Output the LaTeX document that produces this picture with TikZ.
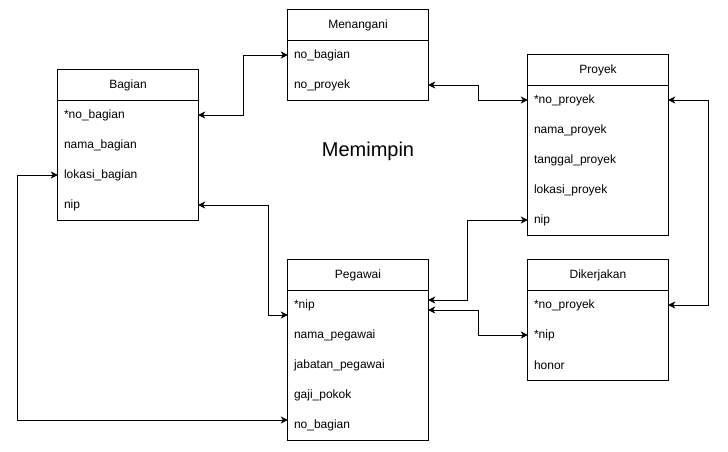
\documentclass[tikz,border=0pt]{standalone}
\usepackage{fontspec}
\setmainfont{Liberation Sans}
\usetikzlibrary{arrows.meta}
\tikzset{
  hdr/.style={minimum width=140pt, minimum height=30pt, inner sep=0pt, font=\fontsize{12}{14}\selectfont},
  row/.style={minimum width=140pt, minimum height=30pt, inner xsep=6pt, inner ysep=0pt, text width=128pt, align=left, font=\fontsize{12}{14}\selectfont},
  box/.style={draw, line width=1pt},
  conn/.style={line width=1pt, {Stealth[length=7pt,width=7pt,inset=2pt]}-{Stealth[length=7pt,width=7pt,inset=2pt]}},
}
\begin{document}
\begin{tikzpicture}[x=1pt,y=-1pt]
\useasboundingbox (0,0) rectangle (728,451);
% Menangani
\node[hdr] (menH) at (358,25) {Menangani};
\node[row] (men1) at (358,55) {no\_bagian};
\node[row] (men2) at (358,85) {no\_proyek};
\draw[box] (menH.north west) rectangle (men2.south east);
\draw[box] (menH.south west) -- (menH.south east);
% Bagian
\node[hdr] (bagH) at (128,85) {Bagian};
\node[row] (bag1) at (128,115) {*no\_bagian};
\node[row] (bag2) at (128,145) {nama\_bagian};
\node[row] (bag3) at (128,175) {lokasi\_bagian};
\node[row] (bag4) at (128,205) {nip};
\draw[box] (bagH.north west) rectangle (bag4.south east);
\draw[box] (bagH.south west) -- (bagH.south east);
% Proyek
\node[hdr] (proH) at (598,70) {Proyek};
\node[row] (pro1) at (598,100) {*no\_proyek};
\node[row] (pro2) at (598,130) {nama\_proyek};
\node[row] (pro3) at (598,160) {tanggal\_proyek};
\node[row] (pro4) at (598,190) {lokasi\_proyek};
\node[row] (pro5) at (598,220) {nip};
\draw[box] (proH.north west) rectangle (pro5.south east);
\draw[box] (proH.south west) -- (proH.south east);
% Pegawai
\node[hdr] (pegH) at (358,275) {Pegawai};
\node[row] (peg1) at (358,305) {*nip};
\node[row] (peg2) at (358,335) {nama\_pegawai};
\node[row] (peg3) at (358,365) {jabatan\_pegawai};
\node[row] (peg4) at (358,395) {gaji\_pokok};
\node[row] (peg5) at (358,425) {no\_bagian};
\draw[box] (pegH.north west) rectangle (peg5.south east);
\draw[box] (pegH.south west) -- (pegH.south east);
% Dikerjakan
\node[hdr] (dikH) at (598,275) {Dikerjakan};
\node[row] (dik1) at (598,305) {*no\_proyek};
\node[row] (dik2) at (598,335) {*nip};
\node[row] (dik3) at (598,365) {honor};
\draw[box] (dikH.north west) rectangle (dik3.south east);
\draw[box] (dikH.south west) -- (dikH.south east);
% Label
\node[font=\fontsize{20}{24}\selectfont] (mem) at (368,151) {Memimpin};
% Connectors
\draw[conn] (bag1.east) -- ++(45,0) |- (men1.west);
\draw[conn] (men2.east) -- ++(50,0) |- (pro1.west);
\draw[conn] (pro1.east) -- ++(40,0) |- (dik1.east);
\draw[conn] (pro5.west) -- ++(-60,0) |- ([yshift=5pt]peg1.east);
\draw[conn] ([yshift=-5pt]peg1.east) -- ++(50,0) |- (dik2.west);
\draw[conn] (bag4.east) -- ++(70,0) |- ([yshift=-10pt]peg1.west);
\draw[conn] (bag3.west) -- ++(-40,0) |- ([yshift=5pt]peg5.west);
\end{tikzpicture}
\end{document}
